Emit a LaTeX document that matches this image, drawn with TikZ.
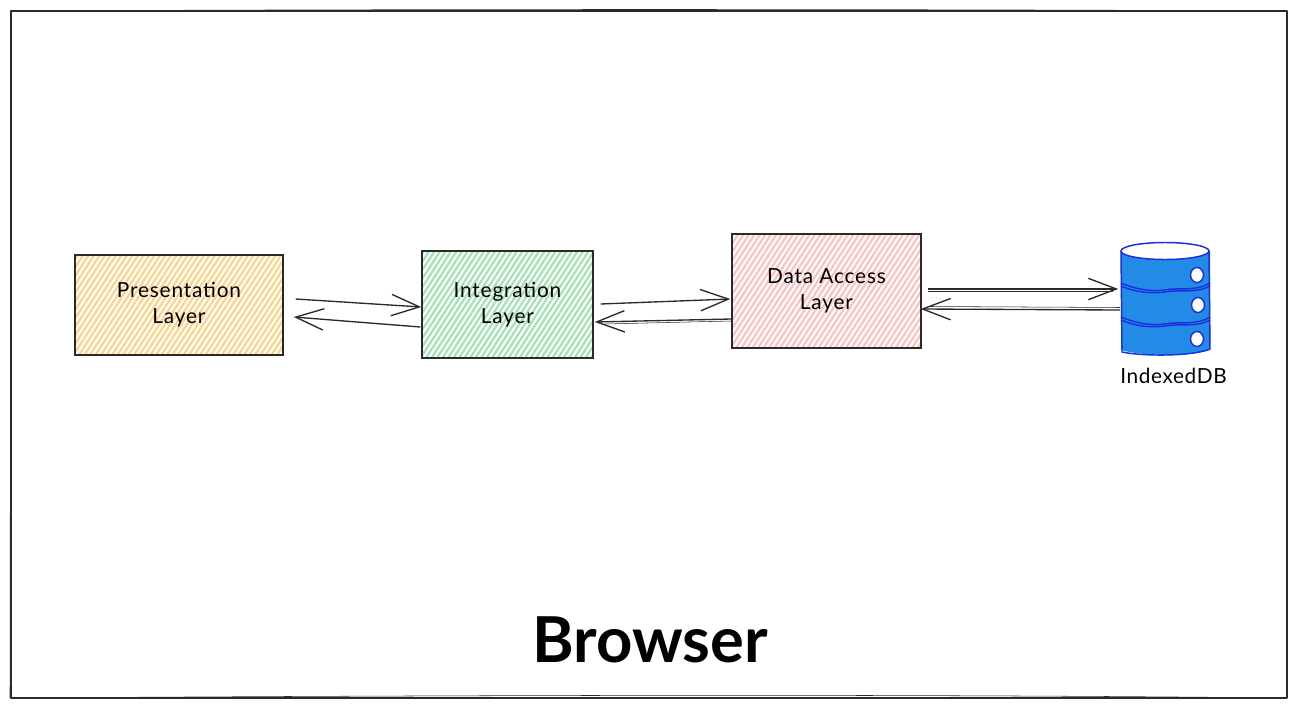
\documentclass[tikz,border=0pt]{standalone}
\usepackage{fontspec}
\setmainfont{Lato}
\usetikzlibrary{arrows.meta,calc}
\definecolor{hyellow}{HTML}{FFD48A}
\definecolor{hgreen}{HTML}{A6E3B4}
\definecolor{hpink}{HTML}{FFC2C2}
\definecolor{dbfill}{HTML}{228BE6}
\definecolor{dbline}{HTML}{1A2FE0}
\definecolor{ink}{HTML}{2A2A2A}
\tikzset{
  x=0.75pt,y=-0.75pt,
  hatchbox/.style={draw=ink,line width=1.1pt,minimum width=#1,inner sep=0pt,align=center,
    font=\fontsize{15.6}{19.5}\selectfont\addfontfeature{LetterSpace=4},text=black},
  hatched/.style={path picture={
    \begin{scope}[x=0.75pt,y=-0.75pt]
    \foreach \k in {-150,-144.5,...,260}{
      \draw[#1,line width=1.7pt]
        ($(path picture bounding box.south west)+(\k pt*0.75,0)$) -- ++(110,-170);
    }
    \end{scope}}},
  flow/.style={draw=ink,line width=1pt,-{Straight Barb[length=21pt,width=16pt,line width=1pt]}},
  sketch/.style={draw=ink,line width=0.4pt},
  dbshape/.style={draw=dbline,line width=1.1pt},
  hole/.style={draw=dbline,fill=white,line width=1.1pt},
}
\begin{document}
\begin{tikzpicture}
\useasboundingbox (0,0) rectangle (1297,707);
\fill[white] (0,0) rectangle (1297,707);
% frame
\coordinate (f1) at (11,11);
\coordinate (f2) at (1287,11);
\coordinate (f3) at (1287,698);
\coordinate (f4) at (11,698);
\draw[ink,line width=0.8pt,line join=round] (f1) -- (f2) -- (f3) -- (f4) -- cycle;
\draw[sketch] (f1) .. controls (400,9) and (900,9) .. (f2);
\draw[sketch] (f4) .. controls (500,695) and (900,694) .. (f3);
\draw[sketch] (f1) -- (10,698);
% boxes
\node[hatchbox=208*0.75pt,minimum height=75pt,hatched=hyellow] (pres) at (179,305) {Presentation\\Layer};
\node[hatchbox=171*0.75pt,minimum height=80.25pt,hatched=hgreen] (integ) at (507.5,304.5) {Integration\\Layer};
\node[hatchbox=189*0.75pt,minimum height=85.5pt,hatched=hpink] (data) at (826.5,291) {Data Access\\Layer};
% database
\node[minimum width=67.5pt,minimum height=81.75pt,inner sep=0pt] (db) at (1165.5,297.5) {};
\path[fill=dbfill] (1121,251) -- (1121,350) .. controls (1140,356) and (1190,357) .. (1210,350) -- (1210,251) -- cycle;
\draw[dbshape] (1121,251) -- (1122,352) .. controls (1140,356) and (1190,357) .. (1210,349) -- (1209,251);
\draw[dbshape,fill=white] (1165,251) ellipse (44 and 8.5);
\draw[dbshape] (1121,283) .. controls (1135,289) and (1150,292) .. (1165,290) .. controls (1180,287) and (1195,292) .. (1210,283);
\draw[dbshape] (1121,286) .. controls (1135,292) and (1150,294) .. (1165,292) .. controls (1180,289) and (1195,294) .. (1210,286);
\draw[dbshape] (1121,317) .. controls (1135,323) and (1150,326) .. (1165,324) .. controls (1180,321) and (1195,326) .. (1210,317);
\draw[dbshape] (1121,320) .. controls (1135,326) and (1150,328) .. (1165,326) .. controls (1180,323) and (1195,328) .. (1210,320);
\draw[hole] (1197,275) ellipse (6.5 and 7.5);
\draw[hole] (1198,305) ellipse (6.5 and 7.5);
\draw[hole] (1197,339) ellipse (6.5 and 7.5);
\node[font=\fontsize{15.6}{18}\selectfont\addfontfeature{LetterSpace=3},text=black,inner sep=0pt] (dblabel) at (1173.5,376) {IndexedDB};
% title
\node[font=\fontsize{47.5}{52}\selectfont\bfseries,text=black,inner sep=0pt] (title) at (650,640) {Browser};
% connectors
\coordinate (a1) at ($(pres.east)+(12,-6)$);
\coordinate (a2) at ($(integ.west)+(0,2.5)$);
\coordinate (b1) at ($(integ.west)+(-1,22.5)$);
\coordinate (b2) at ($(pres.east)+(10,12)$);
\coordinate (c1) at ($(integ.east)+(7,-0.5)$);
\coordinate (c2) at ($(data.west)+(-1,8)$);
\coordinate (d1) at ($(data.west)+(0,28)$);
\coordinate (d2) at ($(integ.east)+(1,17.5)$);
\coordinate (e1) at ($(data.east)+(6,-2)$);
\coordinate (e2) at ($(db.west)+(-2,-8.5)$);
\coordinate (g1) at ($(db.west)+(0,12.5)$);
\coordinate (g2) at ($(data.east)+(-1,18)$);
\draw[flow] (a1) -- (a2);
\draw[flow] (b1) -- (b2);
\draw[flow] (c1) -- (c2);
\draw[flow] (d1) -- (d2);
\draw[flow] (e1) -- (e2);
\draw[flow] (g1) -- (g2);
\draw[sketch] ($(e1)+(0,2.5)$) -- ($(e2)+(-5,2.5)$);
\draw[sketch] ($(g1)+(0,-2.5)$) -- ($(g2)+(10,-2.5)$);
\draw[sketch] ($(d1)+(0,2)$) -- ($(d2)+(10,2)$);
\end{tikzpicture}
\end{document}
